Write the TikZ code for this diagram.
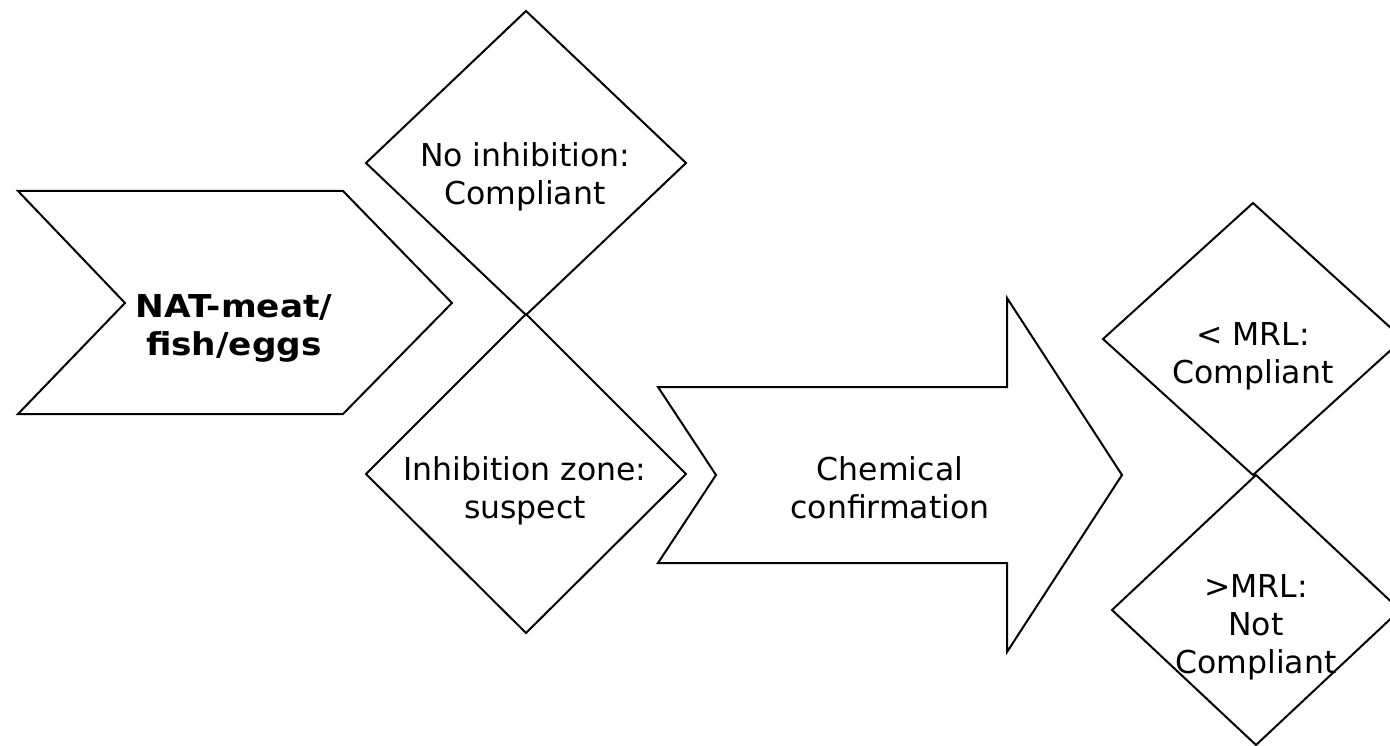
\documentclass[tikz,border=0pt]{standalone}
\usepackage{graphicx}
\usepackage{fontspec}
\setmainfont{DejaVu Sans}
\begin{document}
\begin{tikzpicture}[x=1pt,y=-1pt,
  outline/.style={draw=black,line width=2pt,line join=miter},
  lbl/.style={align=center,anchor=base,inner sep=0pt,font=\fontsize{31.5}{38}\selectfont}]
\useasboundingbox (0,0) rectangle (1390,746);
\clip (0,0) rectangle (1390,746);
% chevron
\draw[outline] (18,191) -- (343,191) -- (452,303) -- (343,414) -- (18,414) -- (125,303) -- cycle;
% diamonds
\draw[outline] (526,11) -- (686,163) -- (526,315) -- (366,163) -- cycle;
\draw[outline] (526,314) -- (686,474) -- (526,633) -- (366,474) -- cycle;
% big arrow
\draw[outline] (658,387) -- (1007,387) -- (1007,298) -- (1122,475) -- (1007,652) -- (1007,563) -- (658,563) -- (716,475) -- cycle;
% right diamonds
\draw[outline] (1253,203) -- (1403,339) -- (1253,475) -- (1103,339) -- cycle;
\draw[outline] (1256,475) -- (1400,610) -- (1256,745) -- (1112,610) -- cycle;
% labels (anchor at baseline of last line)
\node[lbl,font=\fontsize{31.5}{38}\selectfont\bfseries] (nat) at (234,355) {\scalebox{1.09}[1]{NAT-meat/}\\\scalebox{1.09}[1]{fish/eggs}};
\node[lbl] (noinh) at (525,205) {No inhibition:\\Compliant};
\node[lbl] (inh) at (525,518) {Inhibition zone:\\suspect};
\node[lbl] (chem) at (890,518) {Chemical\\confirmation};
\node[lbl] (lt) at (1253,383) {< MRL:\\Compliant};
\node[lbl] (gt) at (1256,673) {>MRL:\\Not\hspace*{0.35em}\\Compliant};
\end{tikzpicture}
\end{document}
